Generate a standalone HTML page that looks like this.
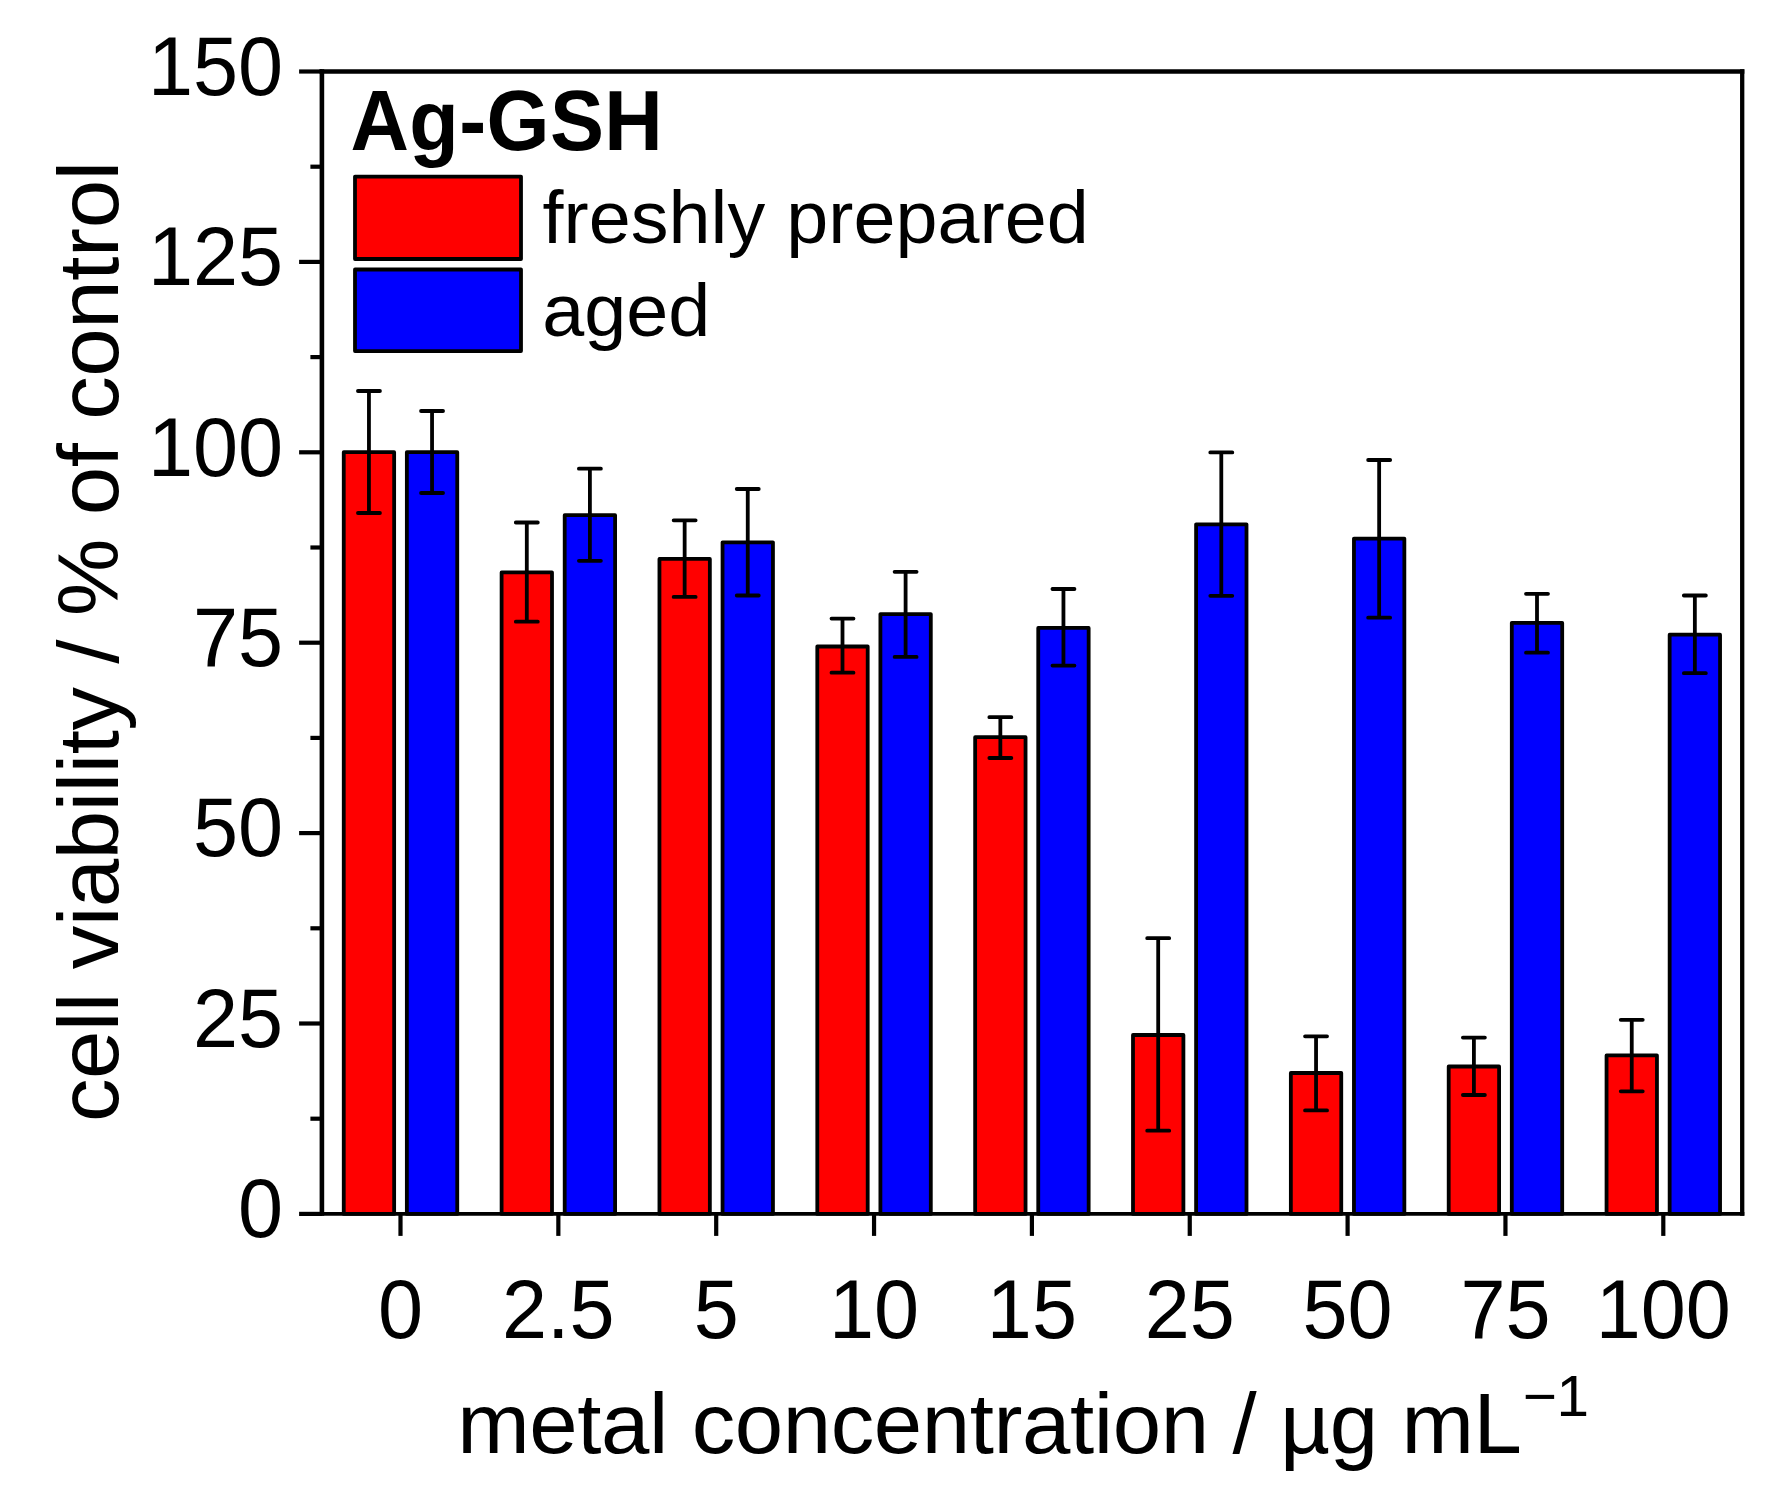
<!DOCTYPE html>
<html lang="en"><head><meta charset="utf-8"><title>Ag-GSH cell viability</title>
<style>
html,body{margin:0;padding:0;background:#fff;overflow:hidden;}
svg{display:block;}
text{font-family:"Liberation Sans",Arial,sans-serif;fill:#000;}
</style></head><body>
<svg width="1775" height="1499" viewBox="0 0 1775 1499">
<rect width="1775" height="1499" fill="#fff"/>
<g stroke="#000" stroke-width="3.8" stroke-linejoin="round">
<rect x="343.75" y="452.20" width="50.40" height="761.70" fill="#ff0000"/>
<rect x="406.85" y="452.20" width="50.40" height="761.70" fill="#0000ff"/>
<rect x="501.60" y="572.40" width="50.40" height="641.50" fill="#ff0000"/>
<rect x="564.70" y="515.20" width="50.40" height="698.70" fill="#0000ff"/>
<rect x="659.45" y="558.90" width="50.40" height="655.00" fill="#ff0000"/>
<rect x="722.55" y="542.30" width="50.40" height="671.60" fill="#0000ff"/>
<rect x="817.30" y="646.50" width="50.40" height="567.40" fill="#ff0000"/>
<rect x="880.40" y="614.10" width="50.40" height="599.80" fill="#0000ff"/>
<rect x="975.15" y="737.20" width="50.40" height="476.70" fill="#ff0000"/>
<rect x="1038.25" y="627.90" width="50.40" height="586.00" fill="#0000ff"/>
<rect x="1133.00" y="1035.00" width="50.40" height="178.90" fill="#ff0000"/>
<rect x="1196.10" y="524.30" width="50.40" height="689.60" fill="#0000ff"/>
<rect x="1290.85" y="1073.00" width="50.40" height="140.90" fill="#ff0000"/>
<rect x="1353.95" y="538.60" width="50.40" height="675.30" fill="#0000ff"/>
<rect x="1448.70" y="1066.50" width="50.40" height="147.40" fill="#ff0000"/>
<rect x="1511.80" y="622.80" width="50.40" height="591.10" fill="#0000ff"/>
<rect x="1606.55" y="1055.40" width="50.40" height="158.50" fill="#ff0000"/>
<rect x="1669.65" y="634.70" width="50.40" height="579.20" fill="#0000ff"/>
</g>
<g stroke="#000" stroke-width="3.8" stroke-linecap="round" fill="none">
<path d="M368.95 391.00V513.00M357.95 391.00h22.0M357.95 513.00h22.0"/>
<path d="M432.05 411.00V493.00M421.05 411.00h22.0M421.05 493.00h22.0"/>
<path d="M526.80 522.50V621.70M515.80 522.50h22.0M515.80 621.70h22.0"/>
<path d="M589.90 468.70V560.80M578.90 468.70h22.0M578.90 560.80h22.0"/>
<path d="M684.65 520.30V596.90M673.65 520.30h22.0M673.65 596.90h22.0"/>
<path d="M747.75 489.00V595.50M736.75 489.00h22.0M736.75 595.50h22.0"/>
<path d="M842.50 618.60V672.70M831.50 618.60h22.0M831.50 672.70h22.0"/>
<path d="M905.60 571.80V656.90M894.60 571.80h22.0M894.60 656.90h22.0"/>
<path d="M1000.35 717.20V758.00M989.35 717.20h22.0M989.35 758.00h22.0"/>
<path d="M1063.45 589.00V665.60M1052.45 589.00h22.0M1052.45 665.60h22.0"/>
<path d="M1158.20 938.20V1130.70M1147.20 938.20h22.0M1147.20 1130.70h22.0"/>
<path d="M1221.30 452.40V595.80M1210.30 452.40h22.0M1210.30 595.80h22.0"/>
<path d="M1316.05 1036.30V1110.40M1305.05 1036.30h22.0M1305.05 1110.40h22.0"/>
<path d="M1379.15 460.00V617.70M1368.15 460.00h22.0M1368.15 617.70h22.0"/>
<path d="M1473.90 1037.60V1095.00M1462.90 1037.60h22.0M1462.90 1095.00h22.0"/>
<path d="M1537.00 593.80V652.70M1526.00 593.80h22.0M1526.00 652.70h22.0"/>
<path d="M1631.75 1019.80V1091.30M1620.75 1019.80h22.0M1620.75 1091.30h22.0"/>
<path d="M1694.85 595.50V673.20M1683.85 595.50h22.0M1683.85 673.20h22.0"/>
</g>
<g stroke="#000" stroke-width="4.2" fill="none" stroke-linecap="butt">
<path d="M319.60 71.50H1744.35" stroke-width="4.4"/>
<path d="M319.60 1213.90H1744.35" stroke-width="3.9"/>
<path d="M321.90 69.30V1215.85" stroke-width="4.6"/>
<path d="M1742.20 69.30V1215.85" stroke-width="4.3"/>
<path d="M299.10 1213.90H321.90"/>
<path d="M299.10 1023.50H321.90"/>
<path d="M299.10 833.10H321.90"/>
<path d="M299.10 642.70H321.90"/>
<path d="M299.10 452.30H321.90"/>
<path d="M299.10 261.90H321.90"/>
<path d="M299.10 71.50H321.90"/>
<path d="M310.40 1118.70H321.90"/>
<path d="M310.40 928.30H321.90"/>
<path d="M310.40 737.90H321.90"/>
<path d="M310.40 547.50H321.90"/>
<path d="M310.40 357.10H321.90"/>
<path d="M310.40 166.70H321.90"/>
<path d="M400.50 1213.90V1235.90"/>
<path d="M558.35 1213.90V1235.90"/>
<path d="M716.20 1213.90V1235.90"/>
<path d="M874.05 1213.90V1235.90"/>
<path d="M1031.90 1213.90V1235.90"/>
<path d="M1189.75 1213.90V1235.90"/>
<path d="M1347.60 1213.90V1235.90"/>
<path d="M1505.45 1213.90V1235.90"/>
<path d="M1663.30 1213.90V1235.90"/>
</g>
<g font-size="81" text-anchor="end">
<text transform="translate(283.1 1237.20) scale(1 1.04)">0</text>
<text transform="translate(283.1 1046.80) scale(1 1.04)">25</text>
<text transform="translate(283.1 856.40) scale(1 1.04)">50</text>
<text transform="translate(283.1 666.00) scale(1 1.04)">75</text>
<text transform="translate(283.1 475.60) scale(1 1.04)">100</text>
<text transform="translate(283.1 285.20) scale(1 1.04)">125</text>
<text transform="translate(283.1 94.80) scale(1 1.04)">150</text>
</g>
<g font-size="81" text-anchor="middle">
<text transform="translate(400.50 1338.3) scale(1 1.04)">0</text>
<text transform="translate(558.35 1338.3) scale(1 1.04)">2.5</text>
<text transform="translate(716.20 1338.3) scale(1 1.04)">5</text>
<text transform="translate(874.05 1338.3) scale(1 1.04)">10</text>
<text transform="translate(1031.90 1338.3) scale(1 1.04)">15</text>
<text transform="translate(1189.75 1338.3) scale(1 1.04)">25</text>
<text transform="translate(1347.60 1338.3) scale(1 1.04)">50</text>
<text transform="translate(1505.45 1338.3) scale(1 1.04)">75</text>
<text transform="translate(1663.30 1338.3) scale(1 1.04)">100</text>
</g>
<text id="xt" transform="translate(457.2 1453.4) scale(1 0.985)" font-size="87" letter-spacing="-0.4">metal concentration / µg mL<tspan font-size="58.5" dy="-38" dx="1.2">−1</tspan></text>
<text id="yt" transform="translate(118 1122) rotate(-90) scale(1 0.985)" font-size="87" letter-spacing="-0.38">cell viability / % of control</text>
<text id="ti" transform="translate(350.4 150.3) scale(1 1.045)" font-size="81" font-weight="bold" letter-spacing="0.4">Ag-GSH</text>
<g stroke="#000" stroke-width="3.8" stroke-linejoin="round">
<rect x="355" y="176.6" width="166" height="82.4" fill="#ff0000"/>
<rect x="355" y="269.5" width="166" height="81.6" fill="#0000ff"/>
</g>
<text id="l1" transform="translate(542.5 243.4) scale(1 0.985)" font-size="75.5" letter-spacing="0.05">freshly prepared</text>
<text id="l2" transform="translate(542.3 335.9) scale(1 0.985)" font-size="75.5">aged</text>
</svg>
</body></html>
